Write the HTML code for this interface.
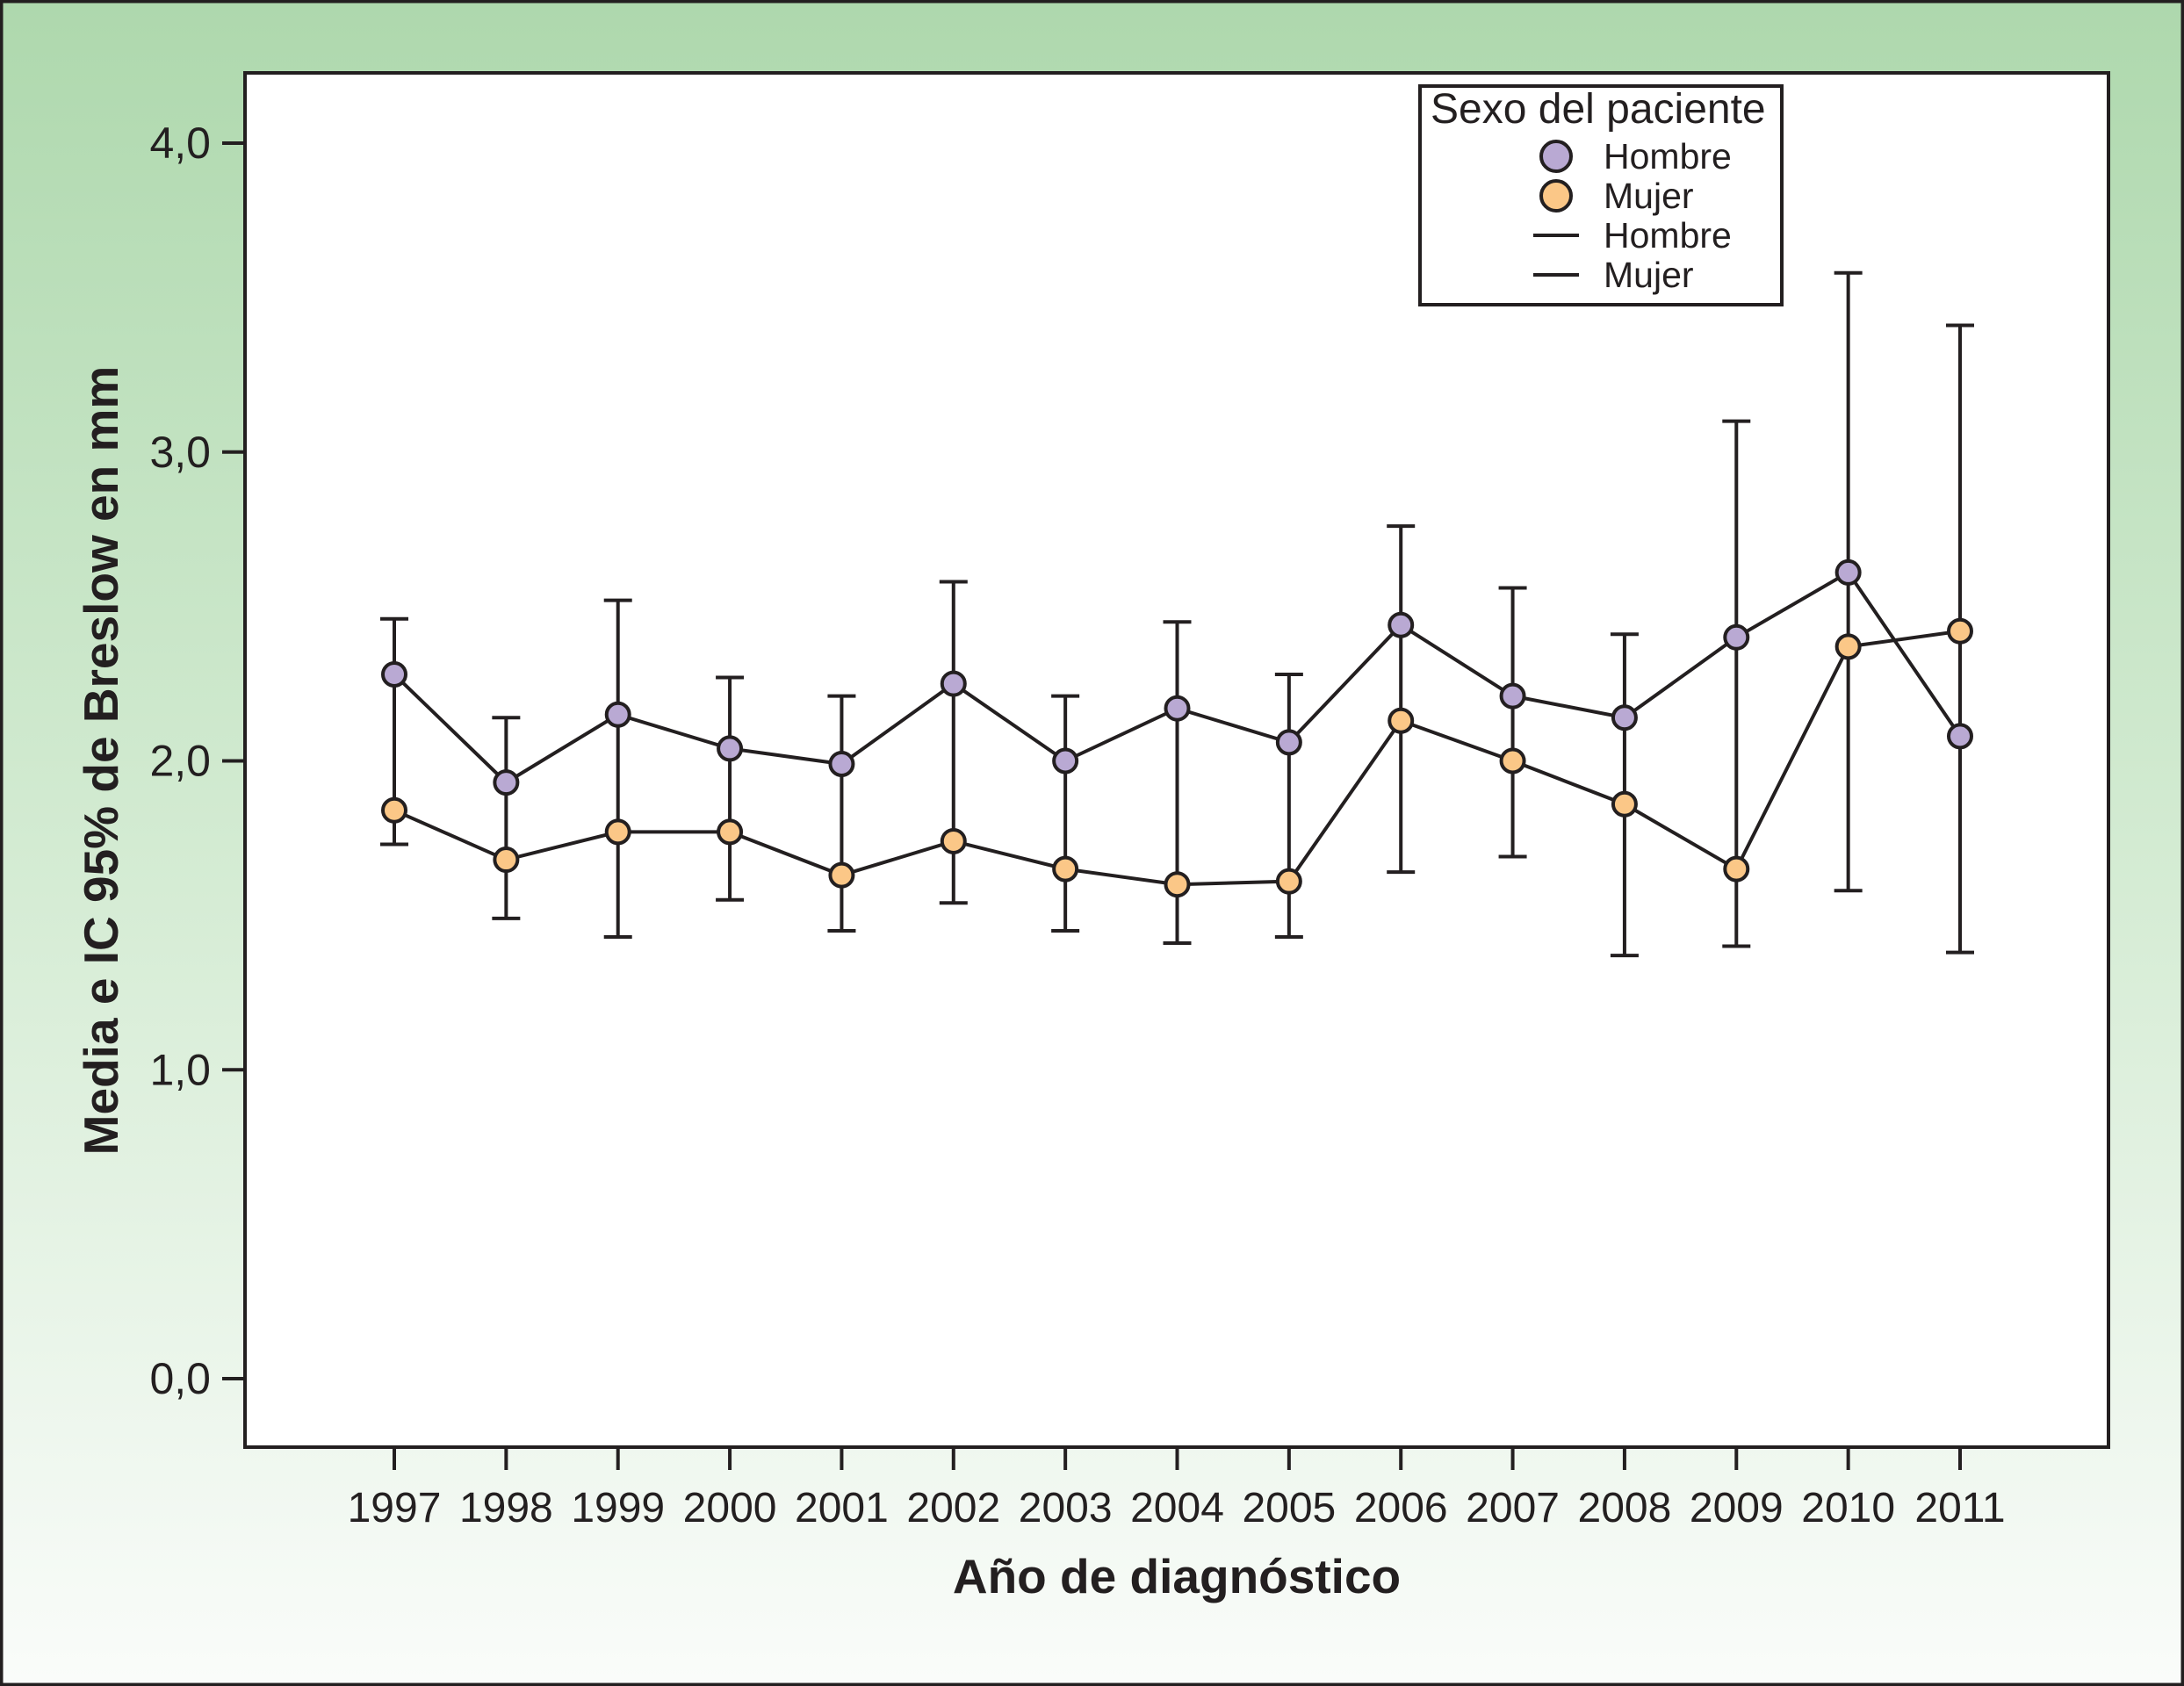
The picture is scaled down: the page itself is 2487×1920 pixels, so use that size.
<!DOCTYPE html>
<html><head><meta charset="utf-8"><style>
html,body{margin:0;padding:0;width:2487px;height:1920px;overflow:hidden}
svg{display:block}
text{font-family:"Liberation Sans",Arial,sans-serif;fill:#231f20}
</style></head><body>
<svg id="chart" width="2487" height="1920" viewBox="0 0 2487 1920">
<defs><linearGradient id="bg" x1="0" y1="0" x2="0" y2="1">
<stop offset="0" stop-color="#aed8ad"/><stop offset="0.5" stop-color="#d3ebd2"/><stop offset="1" stop-color="#fafcfa"/></linearGradient></defs>
<rect x="1.5" y="1.5" width="2484" height="1917" fill="url(#bg)" stroke="#231f20" stroke-width="4"/>
<rect x="279" y="83" width="2122" height="1565" fill="#fff" stroke="#231f20" stroke-width="4"/>
<g id="axes"></g>
<g id="marks"></g>
<text x="1340" y="1814" font-size="55" font-weight="bold" text-anchor="middle">Año de diagnóstico</text>
<text transform="translate(134,866) rotate(-90)" font-size="55" font-weight="bold" text-anchor="middle">Media e IC 95% de Breslow en mm</text>
<g>
<rect x="1617" y="98" width="412" height="249" fill="#fff" stroke="#231f20" stroke-width="4"/>
<text x="1629" y="140" font-size="48">Sexo del paciente</text>
<circle cx="1772" cy="178" r="17" fill="#b9a9d3" stroke="#231f20" stroke-width="4"/>
<text x="1826" y="192" font-size="41">Hombre</text>
<circle cx="1772" cy="223" r="17" fill="#fbc787" stroke="#231f20" stroke-width="4"/>
<text x="1826" y="237" font-size="41">Mujer</text>
<line x1="1746" y1="268" x2="1798" y2="268" stroke="#231f20" stroke-width="4"/>
<text x="1826" y="282" font-size="41">Hombre</text>
<line x1="1746" y1="313" x2="1798" y2="313" stroke="#231f20" stroke-width="4"/>
<text x="1826" y="327" font-size="41">Mujer</text>
</g>
</svg>
<script>
const years=[1997,1998,1999,2000,2001,2002,2003,2004,2005,2006,2007,2008,2009,2010,2011];
const hombre=[2.28,1.93,2.15,2.04,1.99,2.25,2.00,2.17,2.06,2.44,2.21,2.14,2.40,2.61,2.08];
const mujer=[1.84,1.68,1.77,1.77,1.63,1.74,1.65,1.60,1.61,2.13,2.00,1.86,1.65,2.37,2.42];
const ciHigh=[2.46,2.14,2.52,2.27,2.21,2.58,2.21,2.45,2.28,2.76,2.56,2.41,3.10,3.58,3.41];
const ciLow=[1.73,1.49,1.43,1.55,1.45,1.54,1.45,1.41,1.43,1.64,1.69,1.37,1.40,1.58,1.38];
const yTicks=[0,1,2,3,4];
const yTickLabels=["0,0","1,0","2,0","3,0","4,0"];
const NS="http://www.w3.org/2000/svg";
function X(i){return 449+i*(2232-449)/14;}
function Y(v){return 1570-v*(1570-163)/4;}
function mk(tag,attrs,parent){const e=document.createElementNS(NS,tag);for(const k in attrs)e.setAttribute(k,attrs[k]);parent.appendChild(e);return e;}
const axes=document.getElementById('axes'),marks=document.getElementById('marks');
yTicks.forEach((v,i)=>{
 const t=mk('line',{x1:253,x2:279,y1:Y(v),y2:Y(v),stroke:'#231f20','stroke-width':4},axes);
 
 
 const l=mk('text',{x:240,y:Y(v)+17,'font-size':50,'text-anchor':'end'},axes);l.textContent=yTickLabels[i];
 
 
});
years.forEach((yr,i)=>{
 const t=mk('line',{x1:X(i),x2:X(i),y1:1648,y2:1674,stroke:'#231f20','stroke-width':4},axes);
 
 
 const l=mk('text',{x:X(i),y:1733,'font-size':48,'text-anchor':'middle'},axes);l.textContent=yr;
 
 
});
years.forEach((yr,i)=>{
 const g=mk('path',{d:`M${X(i)},${Y(ciHigh[i])}V${Y(ciLow[i])}M${X(i)-16},${Y(ciHigh[i])}H${X(i)+16}M${X(i)-16},${Y(ciLow[i])}H${X(i)+16}`,stroke:'#231f20','stroke-width':4,fill:'none'},marks);
 
 
});
[[hombre,'#b9a9d3','hombre'],[mujer,'#fbc787','mujer']].forEach(([s,c,n])=>{
 const p=mk('polyline',{points:s.map((v,i)=>X(i)+','+Y(v)).join(' '),fill:'none',stroke:'#231f20','stroke-width':4},marks);
 
 
});
[[hombre,'#b9a9d3','hombre'],[mujer,'#fbc787','mujer']].forEach(([s,c,n])=>{
 s.forEach((v,i)=>{
  const m=mk('circle',{cx:X(i),cy:Y(v),r:13,fill:c,stroke:'#231f20','stroke-width':4},marks);
  
  
 });
});
</script>
</body></html>
